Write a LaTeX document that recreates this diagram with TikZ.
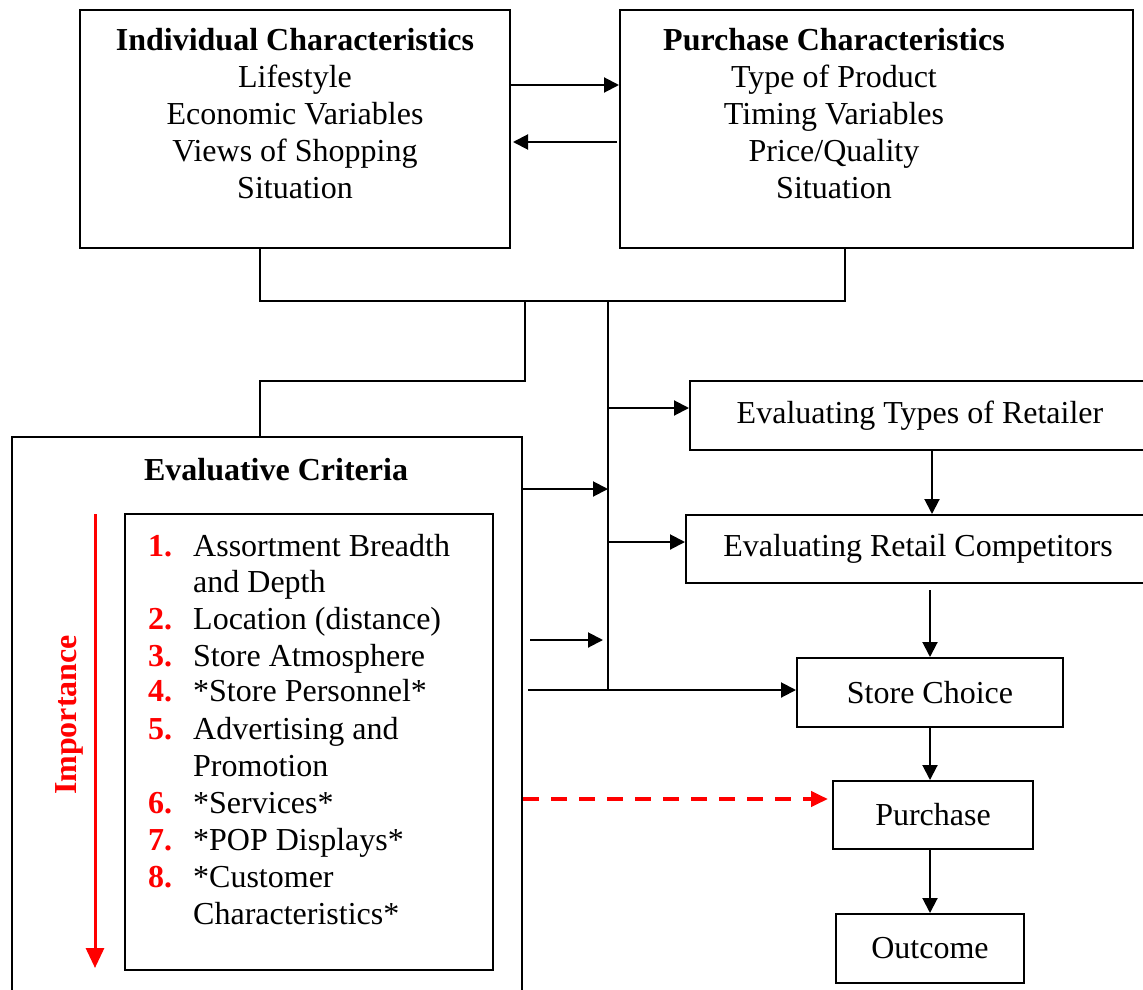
\documentclass[tikz,border=0pt]{standalone}
\usepackage{fontspec}
\setmainfont{Liberation Serif}
\usetikzlibrary{arrows.meta}
\definecolor{imp}{RGB}{255,0,0}
\begin{document}
\begin{tikzpicture}[x=1pt,y=-1pt,
  every node/.style={font=\fontsize{32}{37}\selectfont},
  box/.style n args={2}{draw,line width=2pt,inner sep=0pt,minimum width=#1,minimum height=#2},
  line/.style={line width=2pt},
  arr/.style={line width=2pt,-{Triangle[length=15pt,width=15pt]}},
  txt/.style={anchor=base,inner sep=0pt},
  ltxt/.style={anchor=base west,inner sep=0pt},
  num/.style={anchor=base west,inner sep=0pt,text=imp,font=\fontsize{32}{37}\selectfont\bfseries},
  redarr/.style={imp,line width=3pt,-{Triangle[length=20pt,width=18pt]}},
  reddash/.style={imp,line width=4pt,dash pattern=on 16pt off 12pt,-{Triangle[length=17pt,width=15pt]}}]
\useasboundingbox (0,0) rectangle (1143,990);

% boxes
\node[box={430pt}{238pt}] (indiv) at (295,129) {};
\node[box={513pt}{238pt}] (purch) at (876.5,129) {};
\node[box={460pt}{69pt}] (types) at (920,415.5) {Evaluating Types of Retailer};
\node[box={464pt}{68pt}] (comp) at (918,549) {Evaluating Retail Competitors};
\node[box={266pt}{69pt}] (choice) at (930,692.5) {Store Choice};
\node[box={200pt}{68pt}] (purchase) at (933,815) {Purchase};
\node[box={188pt}{69pt}] (outcome) at (930,948.5) {Outcome};
\node[box={510pt}{566pt}] (eval) at (267,720) {};
\node[box={368pt}{456pt}] (inner) at (309,742) {};

% individual characteristics
\node[txt,font=\fontsize{32}{37}\selectfont\bfseries] (it) at (295,51) {Individual Characteristics};
\node[txt] (i1) at (295,87) {Lifestyle};
\node[txt] (i2) at (295,124) {Economic Variables};
\node[txt] (i3) at (295,161) {Views of Shopping};
\node[txt] (i4) at (295,198) {Situation};

% purchase characteristics
\node[txt,font=\fontsize{32}{37}\selectfont\bfseries] (pt) at (834,51) {Purchase Characteristics};
\node[txt] (p1) at (834,87) {Type of Product};
\node[txt] (p2) at (834,124) {Timing Variables};
\node[txt] (p3) at (834,161) {Price/Quality};
\node[txt] (p4) at (834,198) {Situation};

% evaluative criteria
\node[txt,font=\fontsize{32}{37}\selectfont\bfseries] (et) at (276,480) {Evaluative Criteria};
\node[num] (n1) at (148,556) {1.};
\node[ltxt] (c1) at (193,556) {Assortment Breadth};
\node[ltxt] (c1b) at (193,592) {and Depth};
\node[num] (n2) at (148,629) {2.};
\node[ltxt] (c2) at (193,629) {Location (distance)};
\node[num] (n3) at (148,666) {3.};
\node[ltxt] (c3) at (193,666) {Store Atmosphere};
\node[num] (n4) at (148,701) {4.};
\node[ltxt] (c4) at (193,701) {*Store Personnel*};
\node[num] (n5) at (148,739) {5.};
\node[ltxt] (c5) at (193,739) {Advertising and};
\node[ltxt] (c5b) at (193,776) {Promotion};
\node[num] (n6) at (148,813) {6.};
\node[ltxt] (c6) at (193,813) {*Services*};
\node[num] (n7) at (148,850) {7.};
\node[ltxt] (c7) at (193,850) {*POP Displays*};
\node[num] (n8) at (148,887) {8.};
\node[ltxt] (c8) at (193,887) {*Customer};
\node[ltxt] (c8b) at (193,924) {Characteristics*};

% importance scale
\node[rotate=90,text=imp,font=\fontsize{32}{37}\selectfont\bfseries] (imptxt) at (69,715) {Importance};
\coordinate (ia) at (95,514);
\coordinate (ib) at (95,968);
\draw[redarr] (ia) -- (ib);

% junction points
\coordinate (jA) at (260,301);
\coordinate (jB) at (845,301);
\coordinate (jM) at (525,301);
\coordinate (jM2) at (525,381);
\coordinate (jM3) at (260,381);
\coordinate (jT) at (608,301);
\coordinate (jTb) at (608,690);
\coordinate (r85) at (0,85);
\coordinate (r142) at (0,142);
\coordinate (t1) at (608,408);
\coordinate (t2) at (608,542);
\coordinate (e1) at (608,489);
\coordinate (f1) at (530,640);
\coordinate (f2) at (603,640);
\coordinate (v1) at (932,0);
\coordinate (d1) at (0,799);

% connectors between the top boxes
\draw[arr] (indiv.east |- r85) -- (purch.west |- r85);
\draw[arr] ([xshift=-2pt]purch.west |- r142) -- ([xshift=2pt]indiv.east |- r142);

% joining lines
\draw[line] (indiv.south -| jA) -- (jA) -- (jB) -- (purch.south -| jB);
\draw[line] (jM) -- (jM2) -- (jM3) -- (eval.north -| jM3);
\draw[line] (jT) -- (jTb);

% arrows off the trunk
\draw[arr] (t1) -- (types.west |- t1);
\draw[arr] (t2) -- (comp.west |- t2);
\draw[arr] (eval.east |- e1) -- (e1);
\draw[arr] (f1) -- (f2);
\draw[line] ([xshift=5pt]eval.east |- jTb) -- (jTb);
\draw[arr] (jTb) -- (choice.west |- jTb);

% decision chain
\draw[arr] (types.south -| v1) -- (comp.north -| v1);
\draw[arr] ([yshift=-6pt]comp.south -| choice.north) -- (choice.north);
\draw[arr] (choice.south) -- (purchase.north -| choice.south);
\draw[arr] (purchase.south -| outcome.north) -- (outcome.north);
\draw[reddash,shorten >=4pt] (eval.east |- d1) -- (purchase.west |- d1);
\end{tikzpicture}
\end{document}
